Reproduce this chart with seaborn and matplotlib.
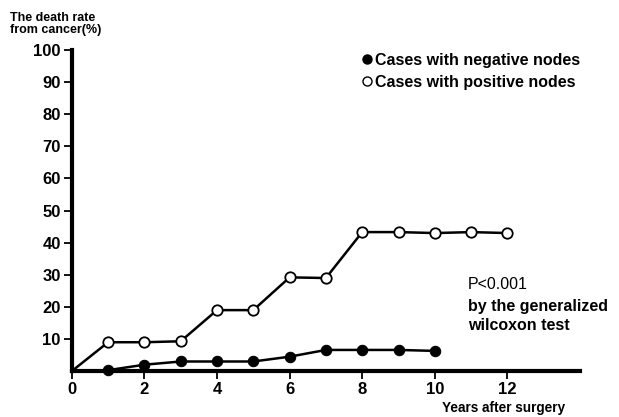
import matplotlib
matplotlib.use("Agg")
import matplotlib.pyplot as plt
import seaborn as sns
import pandas as pd
from matplotlib.lines import Line2D

years_neg = [1, 2, 3, 4, 5, 6, 7, 8, 9, 10]
rate_neg = [0.3, 2.0, 3.0, 3.0, 3.0, 4.5, 6.6, 6.6, 6.6, 6.3]
years_pos = [0, 1, 2, 3, 4, 5, 6, 7, 8, 9, 10, 11, 12]
rate_pos = [0, 9.0, 9.0, 9.3, 19.0, 19.0, 29.2, 29.0, 43.3, 43.3, 43.0, 43.3, 43.0]
x_ticks = [0, 2, 4, 6, 8, 10, 12]
y_ticks = [10, 20, 30, 40, 50, 60, 70, 80, 90, 100]

sns.set_theme(style="white")
plt.rcParams['font.family'] = ['Liberation Sans', 'DejaVu Sans']
plt.rcParams['text.color'] = 'black'
plt.rcParams['xtick.color'] = 'black'
plt.rcParams['ytick.color'] = 'black'
plt.rcParams['axes.labelcolor'] = 'black'

fig = plt.figure(figsize=(6.19, 4.17), dpi=100)
ax = fig.add_axes([0.116, 0.110, 0.821, 0.770])

df_neg = pd.DataFrame({"x": years_neg, "y": rate_neg})
df_pos = pd.DataFrame({"x": years_pos, "y": rate_pos})

sns.lineplot(data=df_pos, x="x", y="y", ax=ax, color="black", linewidth=1.8,
             marker="o", markersize=7.5, markerfacecolor="white",
             markeredgecolor="black", markeredgewidth=1.3,
             markevery=list(range(1, len(years_pos))), clip_on=False, zorder=3)
sns.lineplot(data=df_neg, x="x", y="y", ax=ax, color="black", linewidth=1.8,
             marker="o", markersize=7.5, markerfacecolor="black",
             markeredgecolor="black", clip_on=False, zorder=4)

ax.set_xlim(0, 14)
ax.set_ylim(0, 100)
ax.set_xticks(x_ticks)
ax.set_yticks(y_ticks)
ax.set_xticklabels([str(v) for v in x_ticks], fontsize=12, fontweight="bold")
ax.set_yticklabels([str(v) for v in y_ticks], fontsize=12, fontweight="bold")
ax.set_xlabel("")
ax.set_ylabel("")
ax.tick_params(axis="both", direction="out", length=6, width=1.3, color="black",
               labelcolor="black", left=True, bottom=True, pad=2)
for s in ["top", "right"]:
    ax.spines[s].set_visible(False)
for s in ["left", "bottom"]:
    ax.spines[s].set_linewidth(3)
    ax.spines[s].set_color("black")
ax.grid(False)

handles = [
    Line2D([], [], marker="o", linestyle="none", markersize=6.5,
           markerfacecolor="black", markeredgecolor="black"),
    Line2D([], [], marker="o", linestyle="none", markersize=6.5,
           markerfacecolor="white", markeredgecolor="black"),
]
leg = ax.legend(handles, ["Cases with negative nodes", "Cases with positive nodes"],
                loc="upper left", bbox_to_anchor=(0.545, 1.037), frameon=False,
                handlelength=0.5, handletextpad=0.25, labelspacing=0.45,
                prop={"weight": "bold", "size": 11.5})
for t in leg.get_texts():
    t.set_color("black")

fig.text(0.016, 0.972, "The death rate\nfrom cancer(%)", fontsize=9,
         fontweight="bold", ha="left", va="top", linespacing=1.05, color="black")
fig.text(0.714, 0.022, "Years after surgery", fontsize=9.8, fontweight="bold",
         ha="left", va="center", color="black")
fig.text(0.756, 0.317, "P<0.001", fontsize=11.5, ha="left", va="center", color="black")
fig.text(0.756, 0.266, "by the generalized", fontsize=11.5, fontweight="bold",
         ha="left", va="center", color="black")
fig.text(0.756, 0.220, "wilcoxon test", fontsize=11.5, fontweight="bold",
         ha="left", va="center", color="black")

fig.savefig("out.png", dpi=100)
